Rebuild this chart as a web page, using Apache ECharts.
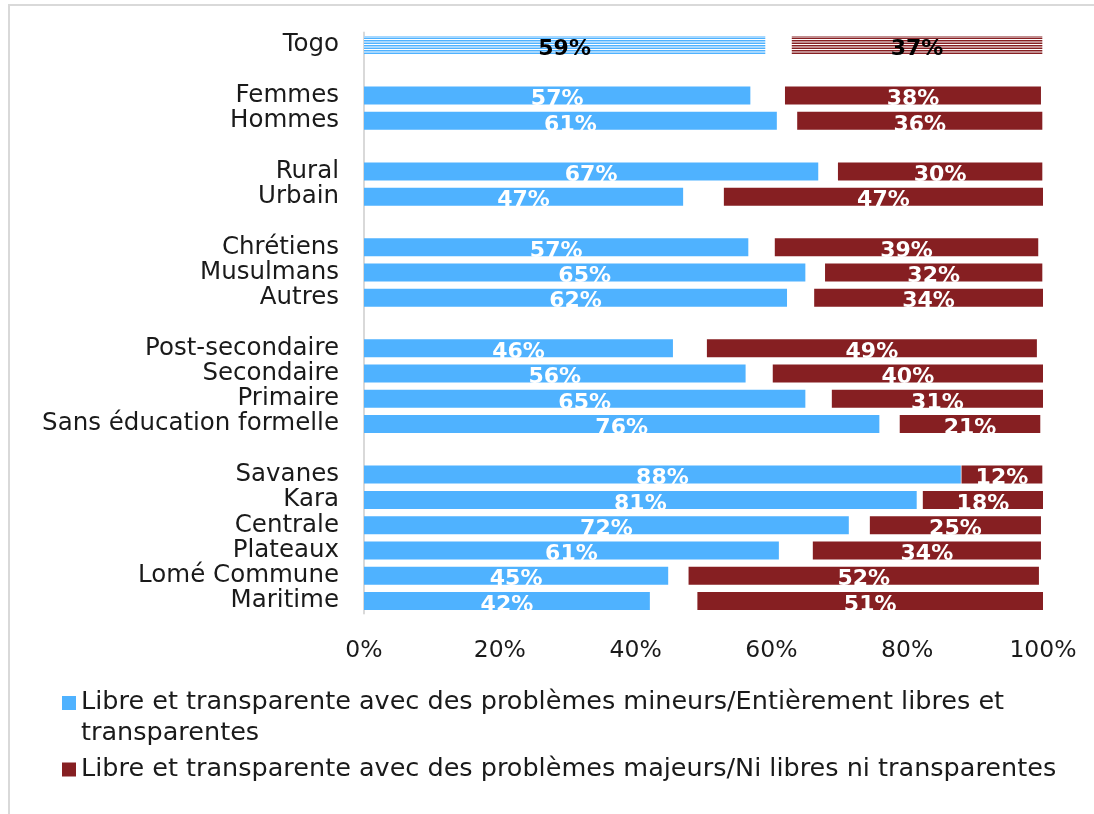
<!DOCTYPE html>
<html>
<head>
<meta charset="utf-8">
<script src="https://cdn.jsdelivr.net/npm/echarts@6/dist/echarts.min.js"></script>
<style>
  html, body { margin: 0; padding: 0; background: #fff; }
  #frame { position: absolute; left: 8px; top: 4px; width: 1100px; height: 820px; border: 2px solid #d9d9d9; box-sizing: border-box; }
  #chart { position: absolute; left: 0; top: 0; width: 1094px; height: 814px; }
</style>
</head>
<body>
<div id="frame"></div>
<div id="chart"></div>
<script>
  // lignes du graphique (les '' sont les espaces entre groupes)
  const categories = ['Togo', '', 'Femmes', 'Hommes', '', 'Rural', 'Urbain', '',
    'Chrétiens', 'Musulmans', 'Autres', '', 'Post-secondaire', 'Secondaire', 'Primaire',
    'Sans éducation formelle', '', 'Savanes', 'Kara', 'Centrale', 'Plateaux', 'Lomé Commune', 'Maritime'];

  // longueurs des barres (en %)
  const libreVals = [59.1, null, 56.9, 60.8, null, 66.9, 47.0, null, 56.6, 65.0, 62.3, null,
    45.5, 56.2, 65.0, 75.9, null, 87.9, 81.4, 71.4, 61.1, 44.8, 42.1];
  const gapVals = [3.9, null, 5.1, 3.0, null, 2.9, 6.0, null, 3.9, 2.9, 4.0, null,
    5.0, 4.0, 3.9, 3.0, null, 0.1, 0.9, 3.1, 5.0, 3.0, 7.0];
  const nonLibreVals = [36.9, null, 37.7, 36.1, null, 30.1, 47.0, null, 38.8, 32.0, 33.7, null,
    48.6, 39.8, 31.1, 20.7, null, 11.9, 17.7, 25.2, 33.6, 51.6, 50.9];

  // étiquettes affichées
  const libreLabels = [59, null, 57, 61, null, 67, 47, null, 57, 65, 62, null,
    46, 56, 65, 76, null, 88, 81, 72, 61, 45, 42];
  const nonLibreLabels = [37, null, 38, 36, null, 30, 47, null, 39, 32, 34, null,
    49, 40, 31, 21, null, 12, 18, 25, 34, 52, 51];

  const nameLibre = 'Libre et transparente avec des problèmes mineurs/Entièrement libres et transparentes';
  const nameNonLibre = 'Libre et transparente avec des problèmes majeurs/Ni libres ni transparentes';

  const BLUE = '#4FB2FF';
  const RED = '#861F22';
  const FONT = 'DejaVu Sans';

  // hachures horizontales pour la barre "Togo"
  function stripes(color) {
    const c = document.createElement('canvas');
    c.width = 4; c.height = 5;
    const ctx = c.getContext('2d');
    ctx.fillStyle = '#fff';
    ctx.fillRect(0, 0, 4, 5);
    ctx.fillStyle = color;
    ctx.fillRect(0, 0, 4, 1.5);
    ctx.fillRect(0, 2.5, 4, 1.5);
    return { image: c, repeat: 'repeat' };
  }

  function buildData(vals, color) {
    return vals.map((v, i) => {
      if (v === null) return '-';
      const item = { value: v };
      if (i === 0) {
        item.itemStyle = { color: stripes(color) };
        item.label = { color: '#000' };
      }
      return item;
    });
  }

  const barLabel = (labels) => ({
    show: true,
    position: 'inside',
    offset: [0, 4],
    color: '#fff',
    fontFamily: FONT,
    fontSize: 22,
    fontWeight: 'bold',
    formatter: p => labels[p.dataIndex] + '%'
  });

  const legendText = { fontFamily: FONT, fontSize: 25.5, color: '#1a1a1a', lineHeight: 31 };

  const myChart = echarts.init(document.getElementById('chart'));
  const option = {
    animation: false,
    grid: { left: 364, right: 51, top: 32.4, bottom: 200.4 },
    legend: [
      {
        left: 62, top: 687, padding: 0, orient: 'vertical',
        // carré en haut d'une boîte de 44px pour l'aligner sur la 1re ligne
        data: [{ name: nameLibre, icon: 'path://M0 0H14V14H0Z M0 44L0.01 44L0 43.99Z' }],
        itemWidth: 14, itemHeight: 44,
        formatter: n => n.replace(' libres et ', ' libres et\n'),
        textStyle: legendText
      },
      {
        left: 62, top: 754, padding: 0, orient: 'vertical',
        data: [{ name: nameNonLibre, icon: 'rect' }],
        itemWidth: 14, itemHeight: 14,
        textStyle: legendText
      }
    ],
    xAxis: {
      type: 'value', min: 0, max: 100, interval: 20,
      splitLine: { show: false },
      axisLine: { show: false },
      axisTick: { show: false },
      axisLabel: { formatter: '{value}%', fontFamily: FONT, fontSize: 23.5, color: '#1a1a1a', margin: 25 }
    },
    yAxis: {
      type: 'category', inverse: true, data: categories,
      axisLine: { show: true, lineStyle: { color: '#d9d9d9', width: 2 } },
      axisTick: { show: false },
      axisLabel: { interval: 0, fontFamily: FONT, fontSize: 24.5, color: '#1a1a1a', margin: 25, padding: [4, 0, 0, 0] }
    },
    series: [
      {
        name: nameLibre, type: 'bar', stack: 'total', barWidth: 18,
        itemStyle: { color: BLUE },
        label: barLabel(libreLabels),
        data: buildData(libreVals, BLUE)
      },
      {
        name: 'gap', type: 'bar', stack: 'total', barWidth: 18, silent: true,
        itemStyle: { color: 'rgba(0,0,0,0)' },
        data: gapVals.map(v => v === null ? '-' : v)
      },
      {
        name: nameNonLibre, type: 'bar', stack: 'total', barWidth: 18,
        itemStyle: { color: RED },
        label: barLabel(nonLibreLabels),
        data: buildData(nonLibreVals, RED)
      }
    ]
  };
  myChart.setOption(option);
</script>
</body>
</html>
